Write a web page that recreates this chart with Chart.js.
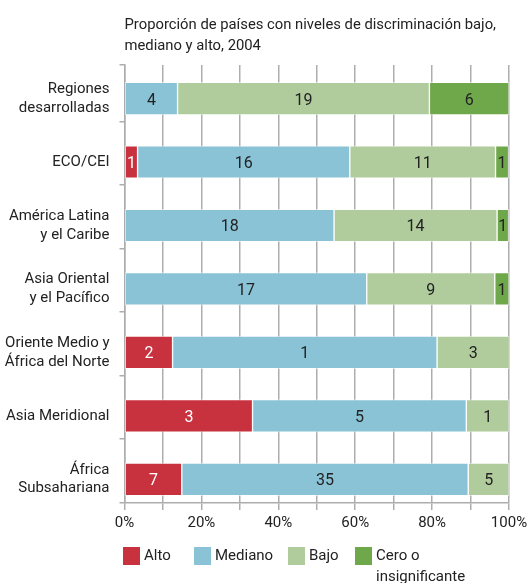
<!DOCTYPE html>
<html>
<head>
<meta charset="utf-8">
<script src="https://cdn.jsdelivr.net/npm/chart.js@4"></script>
<style>
  html, body { margin: 0; padding: 0; background: #fff; }
  #wrap { width: 532px; height: 583px; position: relative; }
</style>
</head>
<body>
<div id="wrap"><canvas id="c"></canvas></div>
<script>
// ---- data ----
const titleLines = ['Proporción de países con niveles de discriminación bajo,', 'mediano y alto, 2004'];
const categories = [
  'Regiones\ndesarrolladas',
  'ECO/CEI',
  'América Latina\ny el Caribe',
  'Asia Oriental\ny el Pacífico',
  'Oriente Medio y\nÁfrica del Norte',
  'Asia Meridional',
  'África\nSubsahariana'
];
const seriesNames = ['Alto', 'Mediano', 'Bajo', 'Cero o\ninsignificante'];
// share of countries (%)
const altoPct    = [0, 3.4, 0, 0, 12.5, 33.3, 14.9];
const medianoPct = [13.8, 55.2, 54.5, 63.0, 68.8, 55.6, 74.5];
const bajoPct    = [65.5, 37.9, 42.4, 33.3, 18.8, 11.1, 10.6];
const ceroPct    = [20.7, 3.4, 3.0, 3.7, 0, 0, 0];
// number of countries printed in each segment
const altoLabels    = ['', '1', '', '', '2', '3', '7'];
const medianoLabels = ['4', '16', '18', '17', '1', '5', '35'];
const bajoLabels    = ['19', '11', '14', '9', '3', '1', '5'];
const ceroLabels    = ['6', '1', '1', '1', '', '', ''];
const xTickValues = [0, 20, 40, 60, 80, 100];

// ---- styles ----
const FONT = 'Roboto, "Liberation Sans", Arial, sans-serif';
const colors = ['#c8323f', '#8ac3d6', '#b0cc9c', '#6fa84a'];
const labelColors = ['#ffffff', '#222222', '#222222', '#222222'];
const gridGray = '#adadad';
const boundaryOffset = 0.364;

const pctSeries = [altoPct, medianoPct, bajoPct, ceroPct];
const labelSeries = [altoLabels, medianoLabels, bajoLabels, ceroLabels];

const datasets = pctSeries.map((arr, s) => ({
  label: seriesNames[s],
  data: arr.map((v, i) => ({ x: v, y: i })),
  backgroundColor: colors[s],
  borderColor: 'rgba(255,255,255,0.55)',
  borderWidth: 1,
  borderSkipped: false,
  barThickness: 32.5,
  segLabels: labelSeries[s],
  segLabelColor: labelColors[s]
}));

const segLabelPlugin = {
  id: 'segLabels',
  afterDatasetsDraw(chart) {
    const ctx = chart.ctx;
    ctx.save();
    ctx.font = '16px ' + FONT;
    ctx.textAlign = 'center';
    ctx.textBaseline = 'middle';
    chart.data.datasets.forEach((ds, di) => {
      const meta = chart.getDatasetMeta(di);
      meta.data.forEach((el, i) => {
        const txt = ds.segLabels[i];
        if (!txt) return;
        const p = el.getProps(['x', 'y', 'base'], true);
        ctx.fillStyle = ds.segLabelColor;
        ctx.fillText(txt, (p.x + p.base) / 2, p.y + 2);
      });
    });
    ctx.restore();
  }
};

const legendPlugin = {
  id: 'bottomLegend',
  afterDraw(chart) {
    const ctx = chart.ctx;
    const xs = [123, 194, 288, 355];
    const top = 547;
    ctx.save();
    ctx.font = '15px ' + FONT;
    ctx.textAlign = 'left';
    ctx.textBaseline = 'middle';
    chart.data.datasets.forEach((ds, i) => {
      ctx.fillStyle = ds.backgroundColor;
      ctx.fillRect(xs[i], top, 17, 18);
      ctx.fillStyle = '#222';
      ds.label.split('\n').forEach((line, k) => {
        ctx.fillText(line, xs[i] + 21, top + 9 + k * 21);
      });
    });
    ctx.restore();
  }
};

new Chart(document.getElementById('c'), {
  type: 'bar',
  data: { datasets },
  plugins: [segLabelPlugin, legendPlugin],
  options: {
    indexAxis: 'y',
    responsive: true,
    maintainAspectRatio: false,
    animation: false,
    layout: { padding: { left: 0, right: 23, top: 0, bottom: 50 } },
    plugins: {
      legend: { display: false },
      tooltip: { enabled: false },
      title: {
        display: true,
        text: titleLines,
        align: 'start',
        fullSize: false,
        color: '#222',
        font: { family: FONT, size: 14.8, weight: 'normal', lineHeight: 1.4 },
        padding: { top: 15, bottom: 8.5 }
      }
    },
    scales: {
      x: {
        type: 'linear',
        stacked: true,
        min: 0,
        max: 100,
        afterBuildTicks(axis) {
          const t = [];
          for (let v = 0; v <= 100; v += 10) t.push({ value: v });
          axis.ticks = t;
        },
        afterFit(axis) { axis.height = 30; },
        grid: { color: gridGray, lineWidth: 1.5, tickLength: 7, tickColor: gridGray },
        border: { color: gridGray, width: 1.5 },
        ticks: {
          autoSkip: false,
          maxRotation: 0,
          padding: 4,
          color: '#222',
          font: { family: FONT, size: 15 },
          callback: (v) => xTickValues.includes(v) ? v + '%' : ''
        }
      },
      y: {
        type: 'linear',
        stacked: true,
        reverse: true,
        offset: false,
        min: -0.53,
        max: 6.373,
        afterBuildTicks(axis) {
          const t = [{ value: -0.53 }, { value: 6.373 }];
          categories.forEach((c, i) => {
            t.push({ value: i });
            if (i < categories.length - 1) t.push({ value: i + boundaryOffset });
          });
          t.sort((a, b) => a.value - b.value);
          axis.ticks = t;
        },
        afterFit(axis) { axis.width = 124.5; },
        grid: {
          offset: false,
          drawOnChartArea: false,
          drawTicks: true,
          tickLength: 5,
          lineWidth: 1.5,
          tickColor: (ctx) => (ctx.tick && Number.isInteger(ctx.tick.value)) ? 'rgba(0,0,0,0)' : gridGray
        },
        border: { color: gridGray, width: 1.5 },
        ticks: {
          autoSkip: false,
          padding: 10,
          color: '#222',
          font: { family: FONT, size: 15, lineHeight: 1.25 },
          callback: (v) => (Number.isInteger(v) && v >= 0 && v < categories.length) ? categories[v].split('\n') : ''
        }
      }
    }
  }
});
</script>
</body>
</html>
